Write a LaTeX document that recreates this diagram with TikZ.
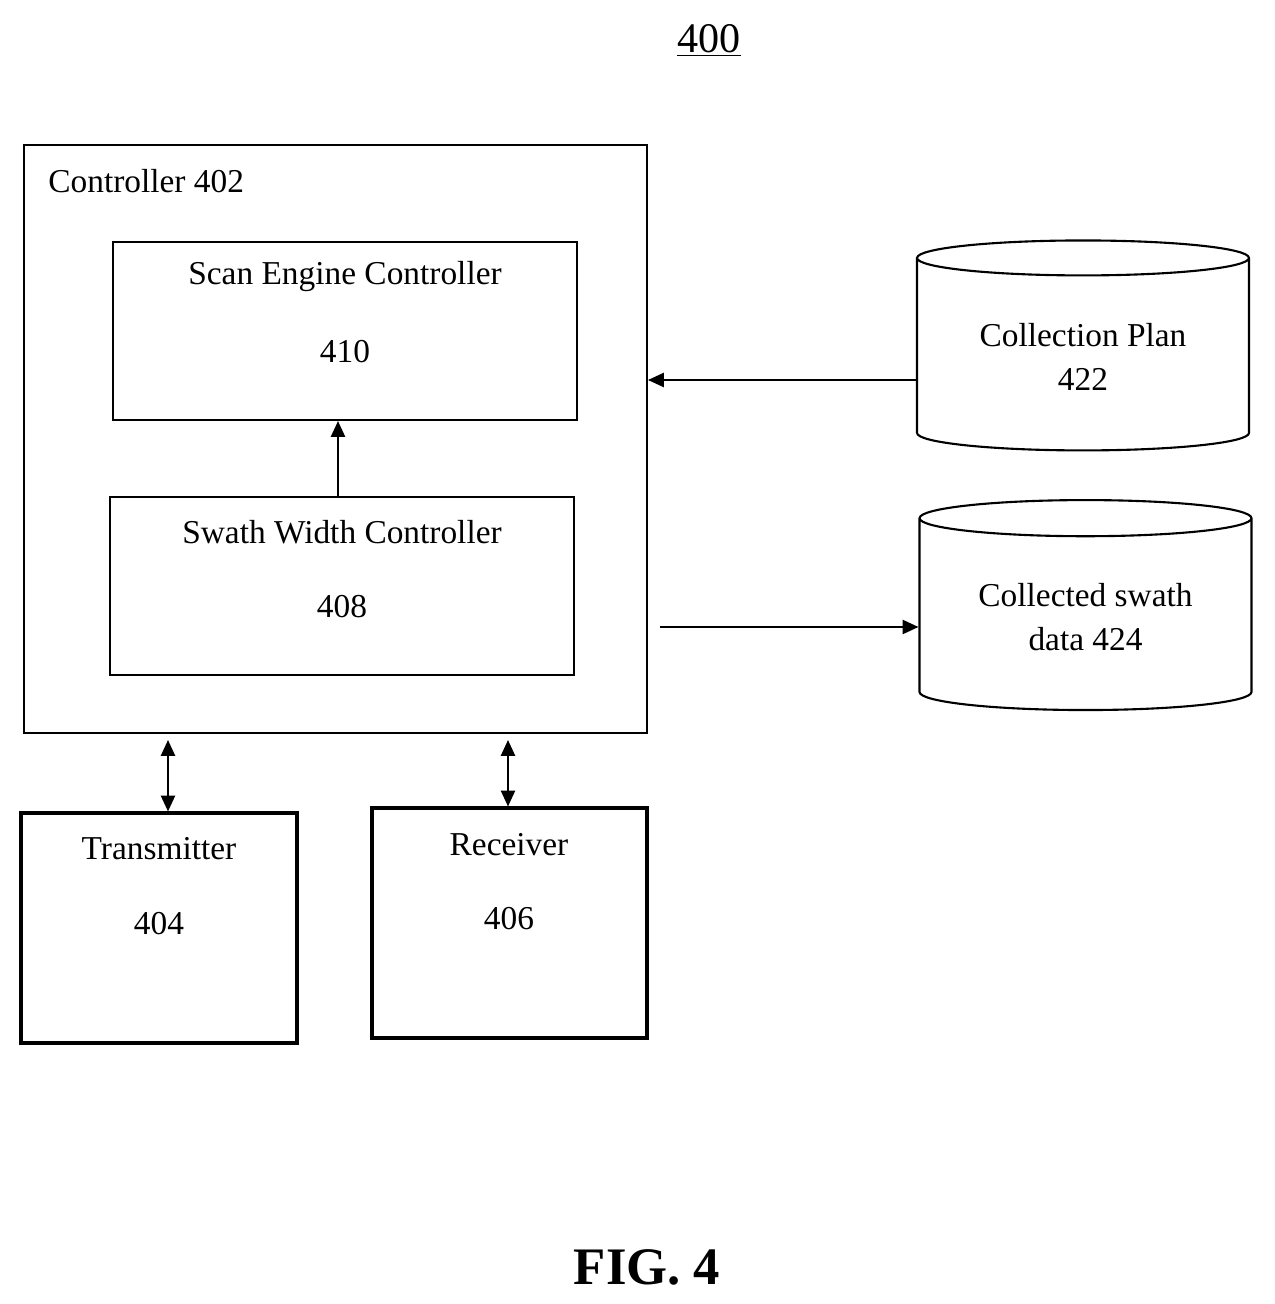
\documentclass[tikz,border=0pt]{standalone}
\usepackage{fontspec}
\setmainfont{Liberation Serif}
\usetikzlibrary{arrows.meta,shapes.geometric}

\tikzset{
  box/.style={draw,line width=1.2pt,inner sep=0pt},
  lbl/.style={font=\fontsize{19}{23}\selectfont,inner sep=0pt},
  store/.style={draw,line width=1.2pt,cylinder,shape border rotate=90,aspect=0.16,
    minimum width=6.64cm,minimum height=4.2cm,align=center,font=\fontsize{19}{25}\selectfont},
  link/.style={line width=1.2pt,-{Triangle[length=9pt,width=8pt]}},
  dlink/.style={line width=1.2pt,{Triangle[length=9pt,width=8pt]}-{Triangle[length=9pt,width=8pt]}}
}

\begin{document}
\begin{tikzpicture}[x=0.02cm,y=-0.02cm]
\useasboundingbox (0,0) rectangle (1274,1304);

% title
\node[lbl,font=\fontsize{24}{28}\selectfont] (title) at (709,40) {\underline{400}};

% controller and its parts
\node[box,minimum width=12.46cm,minimum height=11.76cm] (ctrl) at (335.5,439) {};
\node[lbl,anchor=west] (ctrllbl) at (48,181) {Controller 402};
\node[box,minimum width=9.28cm,minimum height=3.56cm] (scan) at (345,331) {};
\node[lbl] at (345,277) {Scan Engine Controller};
\node[lbl] at (345,352) {410};
\node[box,minimum width=9.28cm,minimum height=3.56cm] (swath) at (342,586) {};
\node[lbl] at (342,532) {Swath Width Controller};
\node[lbl] at (342,607) {408};

% radio
\node[box,line width=1.8pt,minimum width=5.52cm,minimum height=4.6cm] (tx) at (159,928) {};
\node[lbl] at (159,849) {Transmitter};
\node[lbl] at (159,924) {404};
\node[box,line width=1.8pt,minimum width=5.5cm,minimum height=4.6cm] (rx) at (509.5,923) {};
\node[lbl] at (509,845) {Receiver};
\node[lbl] at (509,919) {406};

% stores
\node[store] (plan) at (1083,357) {Collection Plan\\422};
\node[store] (data) at (1085.5,617) {Collected swath\\data 424};

% connectors
\coordinate (c1) at (660,627);
\draw[link] (swath.north -| 338,0) -- (scan.south -| 338,0);
\draw[link] (plan.west |- 0,380) -- (ctrl.east |- 0,380);
\draw[link] (c1) -- (data.west |- c1);
\draw[dlink] (168,740) -- (tx.north -| 168,0);
\draw[dlink] (508,740) -- (rx.north -| 508,0);

\node[font=\bfseries\fontsize{30}{34}\selectfont] (fig) at (647,1267) {FIG. 4};
\end{tikzpicture}
\end{document}
